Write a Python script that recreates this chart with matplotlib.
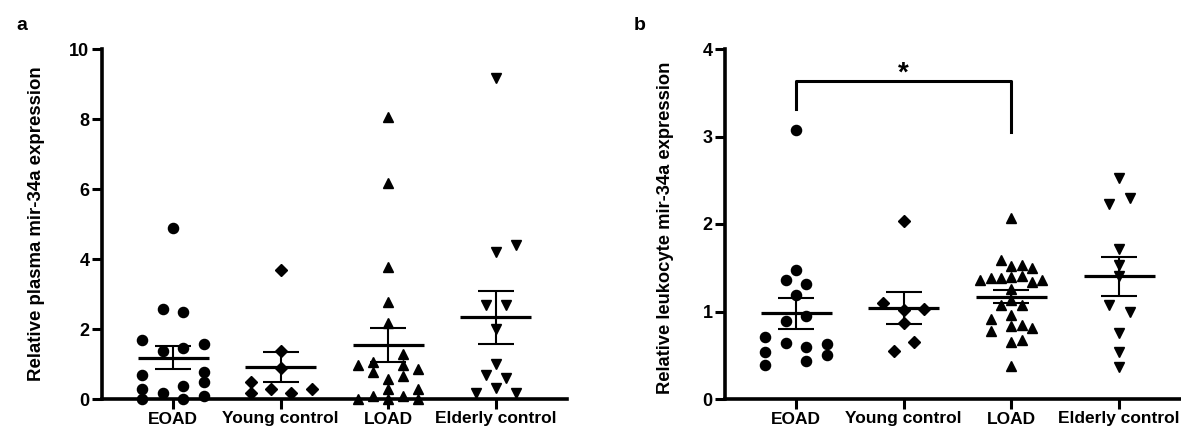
import numpy as np
import matplotlib
matplotlib.use("Agg")
import matplotlib.pyplot as plt

plt.rcParams['font.family'] = ['Liberation Sans', 'DejaVu Sans']
plt.rcParams['font.weight'] = 'bold'
plt.rcParams['axes.labelweight'] = 'bold'

# grupos (eixo x)
groups = ['EOAD', 'Young control', 'LOAD', 'Elderly control']
markers = ['o', 'D', '^', 'v']

# painel a - expressao no plasma
eoad_a = [4.88, 2.58, 2.48, 1.68, 1.58, 1.47, 1.37, 0.78, 0.68, 0.49, 0.37, 0.29, 0.17, 0.08, 0.0, 0.0]
young_a = [3.68, 1.37, 0.88, 0.50, 0.28, 0.28, 0.18, 0.16]
load_a = [8.07, 6.16, 3.78, 2.77, 2.18, 1.29, 1.07, 0.96, 0.96, 0.87, 0.77, 0.66, 0.56,
          0.28, 0.28, 0.09, 0.09, 0.0, 0.0, 0.0]
elderly_a = [9.18, 4.39, 4.21, 2.69, 2.69, 1.99, 0.99, 0.69, 0.59, 0.31, 0.18, 0.18]

# painel b - expressao nos leucocitos
eoad_b = [3.07, 1.47, 1.36, 1.31, 1.19, 0.95, 0.89, 0.71, 0.64, 0.63, 0.60, 0.54, 0.50, 0.44, 0.39]
young_b = [2.04, 1.10, 1.03, 1.02, 0.87, 0.65, 0.55]
load_b = [2.07, 1.59, 1.53, 1.52, 1.50, 1.41, 1.39, 1.38, 1.38, 1.36, 1.36, 1.34, 1.26,
          1.13, 1.08, 1.07, 0.96, 0.92, 0.85, 0.83, 0.81, 0.78, 0.68, 0.65, 0.38]
elderly_b = [2.53, 2.30, 2.23, 1.71, 1.53, 1.41, 1.07, 0.99, 0.76, 0.54, 0.37]

# deslocamentos horizontais dos pontos (espalhamento tipo "scatter dot plot")
dx_eoad_a = [0, -0.095, 0.095, -0.29, 0.29, 0.095, -0.095, 0.29, -0.29, 0.29, 0.095, -0.29, -0.095, 0.29, -0.29, 0.095]
dx_young_a = [0, 0, 0, -0.28, -0.09, 0.29, -0.28, 0.10]
dx_load_a = [0, 0, 0, 0, 0, 0.14, -0.14, -0.28, 0.14, 0.28, -0.14, 0.14, 0, 0, 0.28, -0.14, 0.14, -0.28, 0, 0.28]
dx_elderly_a = [0, 0.19, 0, -0.095, 0.095, 0, 0, -0.095, 0.095, 0, -0.19, 0.19]

dx_eoad_b = [0, 0, -0.096, 0.096, 0, 0.096, -0.096, -0.285, -0.096, 0.29, 0.096, -0.285, 0.29, 0.096, -0.285]
dx_young_b = [0, -0.19, 0.19, 0, 0, 0.093, -0.093]
dx_load_b = [0, -0.096, 0.096, 0, 0.192, 0.096, 0, -0.096, -0.192, -0.288, 0.288, 0.192, 0,
             0, -0.096, 0.096, 0, -0.192, 0.096, 0, 0.192, -0.192, 0.096, 0, 0]
dx_elderly_b = [0, 0.1, -0.093, 0, 0, 0, -0.093, 0.1, 0, 0, 0]

W, H = 1181, 433
fig = plt.figure(figsize=(W / 100, H / 100), dpi=100)
ax_a = fig.add_axes([102 / W, 34 / H, 465 / W, 350 / H])
ax_b = fig.add_axes([725 / W, 34 / H, 456 / W, 350 / H])


def draw_panel(ax, data, offsets, ylim, yticks):
    for i, (vals, dx) in enumerate(zip(data, offsets)):
        vals = np.array(vals)
        xs = i + np.array(dx)
        ms = 6.3 if markers[i] == 'D' else 7.3
        ax.plot(xs, vals, linestyle='none', marker=markers[i], color='black',
                markersize=ms, clip_on=False, zorder=4)
        # media e erro padrao
        m = vals.mean()
        sem = vals.std(ddof=1) / np.sqrt(len(vals))
        ax.hlines(m, i - 0.33, i + 0.33, color='black', linewidth=2.3, zorder=5)
        ax.vlines(i, m - sem, m + sem, color='black', linewidth=1.5, zorder=5)
        ax.hlines([m - sem, m + sem], i - 0.167, i + 0.167, color='black', linewidth=1.5, zorder=5)

    ax.set_ylim(*ylim)
    ax.set_yticks(yticks)
    ax.set_xticks(range(len(groups)))
    ax.set_xticklabels(groups, fontsize=12.5, fontweight='bold')
    ax.tick_params(axis='y', labelsize=13)
    ax.tick_params(width=2.2, length=7, pad=2)
    for s in ['top', 'right']:
        ax.spines[s].set_visible(False)
    for s in ['left', 'bottom']:
        ax.spines[s].set_linewidth(2.6)


draw_panel(ax_a, [eoad_a, young_a, load_a, elderly_a],
           [dx_eoad_a, dx_young_a, dx_load_a, dx_elderly_a],
           (0, 10), [0, 2, 4, 6, 8, 10])
ax_a.set_xlim(-0.66, 3.66)

draw_panel(ax_b, [eoad_b, young_b, load_b, elderly_b],
           [dx_eoad_b, dx_young_b, dx_load_b, dx_elderly_b],
           (0, 4), [0, 1, 2, 3, 4])
ax_b.set_xlim(-0.66, 3.575)

# rotulos do eixo y
fig.text(37 / W, 1 - 224 / H, 'Relative plasma mir-34a expression', rotation=90,
         fontsize=13.4, fontweight='bold', ha='center', va='center')
fig.text(665 / W, 1 - 228 / H, 'Relative leukocyte mir-34a expression', rotation=90,
         fontsize=13.2, fontweight='bold', ha='center', va='center')

# significancia EOAD vs LOAD
ax_b.plot([0, 0, 2, 2], [3.31, 3.64, 3.64, 3.05], color='black', linewidth=2.2, clip_on=False)
ax_b.text(1, 3.72, '*', ha='center', va='center', fontsize=20, fontweight='bold')

# letras dos paineis
fig.text(22 / W, 1 - 25 / H, 'a', fontsize=14, fontweight='bold', ha='center', va='center')
fig.text(640 / W, 1 - 25 / H, 'b', fontsize=14, fontweight='bold', ha='center', va='center')

fig.savefig('out.png', dpi=100)
